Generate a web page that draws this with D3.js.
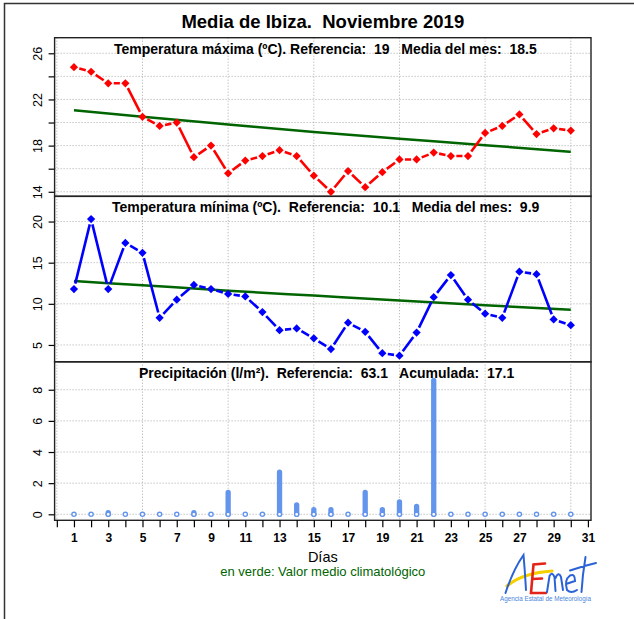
<!DOCTYPE html>
<html>
<head>
<meta charset="utf-8">
<script src="https://cdn.jsdelivr.net/npm/d3@7"></script>
<style>
  body { margin: 0; background: #fff; }
  svg text { font-family: "Liberation Sans", Arial, Helvetica, sans-serif; white-space: pre; }
</style>
</head>
<body>
<div id="chart"></div>
<script>
// Media de Ibiza, noviembre 2019 (AEMET)

var width = 634,
	height = 619;

// data
var days = d3.range(1, 31);
var tmax = [24.8, 24.4, 23.4, 23.4, 20.5, 19.7, 20.0, 17.0, 18.0, 15.6,
	16.7, 17.1, 17.6, 17.1, 15.4, 14.0, 15.8, 14.4, 15.7, 16.8,
	16.8, 17.4, 17.1, 17.1, 19.1, 19.7, 20.7, 19.0, 19.5, 19.3];
var tmin = [11.8, 20.3, 11.8, 17.4, 16.2, 8.3, 10.5, 12.3, 11.8, 11.2,
	10.9, 9.0, 6.8, 7.0, 5.8, 4.5, 7.7, 6.6, 4.0, 3.7,
	6.5, 10.8, 13.5, 10.5, 8.8, 8.3, 13.9, 13.6, 8.1, 7.4];
var prec = [0, 0, 0.1, 0, 0, 0, 0, 0.1, 0, 1.4,
	0, 0, 2.7, 0.6, 0.3, 0.3, 0, 1.4, 0.3, 0.8,
	0.5, 8.6, 0, 0, 0, 0, 0, 0, 0, 0];

// climatological mean (green lines)
var clim_days = [1, 5, 10, 15, 20, 25, 30];
var clim_max = [21.06, 20.5, 19.83, 19.17, 18.6, 18.04, 17.46];
var clim_min = [12.77, 12.25, 11.6, 11.0, 10.4, 9.83, 9.28];

var title = "Media de Ibiza.  Noviembre 2019";
var subtitles = [
	"Temperatura máxima (ºC). Referencia:  19   Media del mes:  18.5",
	"Temperatura mínima (ºC).  Referencia:  10.1   Media del mes:  9.9",
	"Precipitación (l/m²).  Referencia:  63.1   Acumulada:  17.1"
];
var x_ticks = d3.range(0, 32);
var x_grid = [0, 5, 10, 15, 20, 25, 30];

var left = 54.6, right = 591;

var x = d3.scaleLinear()
	.domain([-0.13, 31.18])
	.range([left, right]);

// panel layout
var panels = [
	{top: 37.7, bottom: 196.4, domain: [13.6, 27.35],
		ticks: [14, 16, 18, 20, 22, 24, 26], labels: [14, 18, 22, 26], sub_x: 114},
	{top: 196.2, bottom: 361.9, domain: [2.94, 23.08],
		ticks: [5, 10, 15, 20], labels: [5, 10, 15, 20], sub_x: 112},
	{top: 361.7, bottom: 520.3, domain: [-0.385, 9.8],
		ticks: [0, 2, 4, 6, 8], labels: [0, 2, 4, 6, 8], sub_x: 139}
];

var svg = d3.select("#chart")
	.append("svg")
	.attr("width", width)
	.attr("height", height);

svg.append("rect")
	.attr("width", width)
	.attr("height", height)
	.attr("fill", "#fff");

// outer frame (top and left edges only are visible)
svg.append("path")
	.attr("d", "M4.5,619 L4.5,3.5 L634,3.5")
	.attr("fill", "none")
	.attr("stroke", "#333")
	.attr("stroke-width", 1.5);

svg.append("text")
	.attr("x", (left + right) / 2)
	.attr("y", 28)
	.attr("text-anchor", "middle")
	.attr("font-size", 18.5)
	.attr("font-weight", "bold")
	.text(title);

panels.forEach(function(p, i) {
	p.y = d3.scaleLinear()
		.domain(p.domain)
		.range([p.bottom, p.top]);

	var g = svg.append("g");

	// dotted grid
	g.selectAll(".hgrid")
		.data(p.ticks)
		.enter().append("line")
		.attr("x1", left).attr("x2", right)
		.attr("y1", function(d) { return p.y(d); })
		.attr("y2", function(d) { return p.y(d); })
		.attr("stroke", "#aaa")
		.attr("stroke-width", 1)
		.attr("stroke-dasharray", "1,2");

	g.selectAll(".vgrid")
		.data(x_grid)
		.enter().append("line")
		.attr("x1", function(d) { return x(d); })
		.attr("x2", function(d) { return x(d); })
		.attr("y1", p.top).attr("y2", p.bottom)
		.attr("stroke", "#aaa")
		.attr("stroke-width", 1)
		.attr("stroke-dasharray", "1,2");

	// y axis
	var y_axis = d3.axisLeft(p.y)
		.tickValues(p.ticks)
		.tickSize(6)
		.tickFormat(function(d) { return p.labels.indexOf(d) >= 0 ? d : ""; });

	var ax = svg.append("g")
		.attr("transform", "translate(" + left + ",0)")
		.call(y_axis);
	ax.select(".domain").remove();
	ax.selectAll("line").attr("stroke", "#000").attr("stroke-width", 1.2);
	ax.selectAll("text")
		.attr("x", 0)
		.attr("y", -13)
		.attr("dy", 0)
		.attr("text-anchor", "middle")
		.attr("transform", "rotate(-90)")
		.attr("font-size", 12.5)
		.attr("font-family", null)
		.attr("fill", "#000");

	// box
	svg.append("rect")
		.attr("x", left).attr("y", p.top)
		.attr("width", right - left)
		.attr("height", p.bottom - p.top)
		.attr("fill", "none")
		.attr("stroke", "#222")
		.attr("stroke-width", 1.4);

	svg.append("text")
		.attr("x", p.sub_x)
		.attr("y", p.top + 16)
		.attr("font-size", 14)
		.attr("font-weight", "bold")
		.text(subtitles[i]);
});

// line with gaps around points (R type="b")
function gapped_path(values, y, gap) {
	var pts = values.map(function(v, i) { return [x(days[i]), y(v)]; });
	var path = d3.path();
	for (var i = 0; i < pts.length - 1; i++) {
		var a = pts[i], b = pts[i + 1];
		var dx = b[0] - a[0], dy = b[1] - a[1];
		var len = Math.sqrt(dx * dx + dy * dy);
		if (len <= 2 * gap) continue;
		var ux = dx / len, uy = dy / len;
		path.moveTo(a[0] + ux * gap, a[1] + uy * gap);
		path.lineTo(b[0] - ux * gap, b[1] - uy * gap);
	}
	return path.toString();
}

function draw_temp(values, p, colour, clim) {
	var clim_line = d3.line()
		.x(function(d, i) { return x(clim_days[i]); })
		.y(function(d) { return p.y(d); })
		.curve(d3.curveMonotoneX);

	svg.append("path")
		.attr("d", clim_line(clim))
		.attr("fill", "none")
		.attr("stroke", "#006400")
		.attr("stroke-width", 2.5);

	svg.append("path")
		.attr("d", gapped_path(values, p.y, 5.5))
		.attr("fill", "none")
		.attr("stroke", colour)
		.attr("stroke-width", 2.6);

	svg.selectAll(null)
		.data(values)
		.enter().append("path")
		.attr("d", d3.symbol(d3.symbolSquare, 34))
		.attr("transform", function(d, i) {
			return "translate(" + x(days[i]) + "," + p.y(d) + ") rotate(45)";
		})
		.attr("fill", colour);
}

draw_temp(tmax, panels[0], "#ff0000", clim_max);
draw_temp(tmin, panels[1], "#0000ff", clim_min);

// precipitation
var py = panels[2].y;
svg.selectAll(".bar")
	.data(prec.filter(function(d) { return d > 0; }).length ? days : [])
	.enter().append("line")
	.filter(function(d, i) { return prec[i] > 0; })
	.attr("x1", function(d) { return x(d); })
	.attr("x2", function(d) { return x(d); })
	.attr("y1", py(0))
	.attr("y2", function(d) { return py(prec[d - 1]); })
	.attr("stroke", "#6495ED")
	.attr("stroke-width", 5.3)
	.attr("stroke-linecap", "round");

svg.selectAll(".dot")
	.data(days)
	.enter().append("circle")
	.attr("cx", function(d) { return x(d); })
	.attr("cy", py(0))
	.attr("r", 2.1)
	.attr("fill", "#fff")
	.attr("stroke", "#6495ED")
	.attr("stroke-width", 1.4);

// x axis
var x_axis = d3.axisBottom(x)
	.tickValues(x_ticks)
	.tickSize(7)
	.tickFormat(function(d) { return d % 2 == 1 ? d : ""; });

var xa = svg.append("g")
	.attr("transform", "translate(0," + panels[2].bottom + ")")
	.call(x_axis);
xa.select(".domain").remove();
xa.selectAll("line").attr("stroke", "#000").attr("stroke-width", 1.2);
xa.selectAll("text")
	.attr("y", 21.5)
	.attr("dy", 0)
	.attr("font-size", 12)
	.attr("font-weight", "bold")
	.attr("font-family", null)
	.attr("fill", "#000");

svg.append("text")
	.attr("x", (left + right) / 2)
	.attr("y", 562)
	.attr("text-anchor", "middle")
	.attr("font-size", 14.5)
	.text("Días");

svg.append("text")
	.attr("x", (left + right) / 2)
	.attr("y", 575.5)
	.attr("text-anchor", "middle")
	.attr("font-size", 13)
	.attr("fill", "#006400")
	.text("en verde: Valor medio climatológico");

// AEMET logo, drawn roughly
var logo = svg.append("g");
logo.append("path")
	.attr("d", "M507,586 Q522,573 552,571")
	.attr("fill", "none")
	.attr("stroke", "#f5d000")
	.attr("stroke-width", 3.2)
	.attr("stroke-linecap", "round");
logo.append("path")
	.attr("d", "M505.5,593 Q513,570 523.5,555 Q525,572 526,590")
	.attr("fill", "none")
	.attr("stroke", "#2b63d6")
	.attr("stroke-width", 2)
	.attr("stroke-linecap", "round");
logo.append("path")
	.attr("d", "M545,563.5 L533.5,564.5 L531,593 L546,593 M532.5,579 L542,578.5")
	.attr("fill", "none")
	.attr("stroke", "#e2231a")
	.attr("stroke-width", 2.6)
	.attr("stroke-linecap", "round");
logo.append("path")
	.attr("d", "M547,592 L549.5,576 Q552,571 554.5,577 L555.5,591 M555.5,578 Q558.5,571 561,577 L563,590" +
		" M566,584 L575,581 Q575,573 570,575.5 Q564,580 567,590 Q571,594 577,590" +
		" M585.5,557 Q582.5,575 581.5,592 M570,570.5 Q583,566 596,563")
	.attr("fill", "none")
	.attr("stroke", "#2b63d6")
	.attr("stroke-width", 2)
	.attr("stroke-linecap", "round");
logo.append("text")
	.attr("x", 500)
	.attr("y", 601)
	.attr("font-size", 7.5)
	.attr("fill", "#4a86dc")
	.attr("textLength", 91)
	.attr("lengthAdjust", "spacingAndGlyphs")
	.text("Agencia Estatal de Meteorología");
</script>
</body>
</html>
